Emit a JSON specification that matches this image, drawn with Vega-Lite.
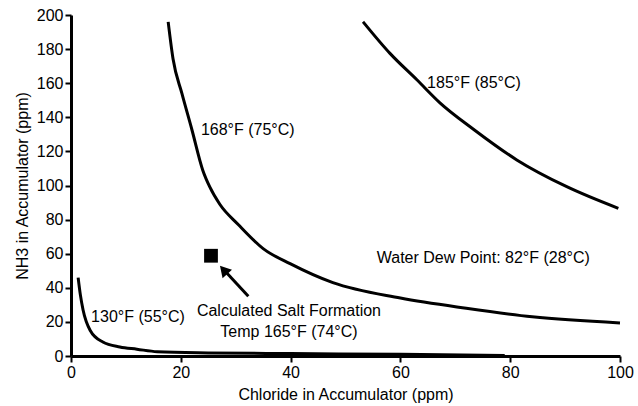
{
  "$schema": "https://vega.github.io/schema/vega-lite/v6.json",
  "autosize": {"type": "none"},
  "width": 549,
  "height": 341,
  "padding": {"left": 71, "top": 15, "right": 18, "bottom": 50},
  "background": "white",
  "config": {
    "view": {"stroke": null},
    "font": "Liberation Sans",
    "axis": {
      "grid": false,
      "domainColor": "black",
      "domainWidth": 3,
      "tickColor": "black",
      "tickWidth": 2,
      "tickSize": 6,
      "labelColor": "black",
      "labelFont": "Liberation Sans",
      "labelFontSize": 16,
      "labelPadding": 2,
      "labelOverlap": false,
      "labelFlush": false,
      "titleColor": "black",
      "titleFont": "Liberation Sans",
      "titleFontSize": 16,
      "titleFontWeight": "normal"
    }
  },
  "datasets": {
    "curves": [
      {"series": "130F", "Cl": 1.3, "NH3": 46},
      {"series": "130F", "Cl": 1.7, "NH3": 36},
      {"series": "130F", "Cl": 2.2, "NH3": 27},
      {"series": "130F", "Cl": 3.5, "NH3": 15},
      {"series": "130F", "Cl": 5.8, "NH3": 8.2},
      {"series": "130F", "Cl": 8.9, "NH3": 5.3},
      {"series": "130F", "Cl": 12, "NH3": 4},
      {"series": "130F", "Cl": 15.7, "NH3": 2.5},
      {"series": "130F", "Cl": 25, "NH3": 1.8},
      {"series": "130F", "Cl": 40, "NH3": 1.4},
      {"series": "130F", "Cl": 60, "NH3": 1},
      {"series": "130F", "Cl": 79, "NH3": 0.3},
      {"series": "168F", "Cl": 17.7, "NH3": 196},
      {"series": "168F", "Cl": 18.6, "NH3": 174},
      {"series": "168F", "Cl": 20.2, "NH3": 154},
      {"series": "168F", "Cl": 22, "NH3": 133},
      {"series": "168F", "Cl": 24, "NH3": 109},
      {"series": "168F", "Cl": 25.3, "NH3": 99},
      {"series": "168F", "Cl": 27.1, "NH3": 89},
      {"series": "168F", "Cl": 30.5, "NH3": 77},
      {"series": "168F", "Cl": 35, "NH3": 63},
      {"series": "168F", "Cl": 40, "NH3": 54},
      {"series": "168F", "Cl": 47.7, "NH3": 43},
      {"series": "168F", "Cl": 60, "NH3": 34},
      {"series": "168F", "Cl": 72, "NH3": 28},
      {"series": "168F", "Cl": 84, "NH3": 23},
      {"series": "168F", "Cl": 100, "NH3": 19.4},
      {"series": "185F", "Cl": 53.2, "NH3": 196},
      {"series": "185F", "Cl": 58.1, "NH3": 177.5},
      {"series": "185F", "Cl": 63, "NH3": 162},
      {"series": "185F", "Cl": 67.2, "NH3": 148.5},
      {"series": "185F", "Cl": 73.3, "NH3": 133},
      {"series": "185F", "Cl": 81.2, "NH3": 115},
      {"series": "185F", "Cl": 90.3, "NH3": 99.3},
      {"series": "185F", "Cl": 99.7, "NH3": 86.6}
    ],
    "labels": [
      {"Cl": 12.2, "NH3": 23, "text": "130°F (55°C)"},
      {"Cl": 32.2, "NH3": 132.5, "text": "168°F (75°C)"},
      {"Cl": 73.4, "NH3": 160, "text": "185°F (85°C)"},
      {"Cl": 75.1, "NH3": 57.5, "text": "Water Dew Point: 82°F (28°C)"},
      {"Cl": 39.7, "NH3": 26.4, "text": "Calculated Salt Formation"},
      {"Cl": 39.7, "NH3": 13.8, "text": "Temp 165°F (74°C)"}
    ]
  },
  "encoding": {
    "x": {"field": "Cl", "type": "quantitative", "scale": {"domain": [0, 100], "nice": false}, "axis": {"values": [0, 20, 40, 60, 80, 100], "labelOverlap": false, "title": "Chloride in Accumulator (ppm)", "titlePadding": 6}},
    "y": {"field": "NH3", "type": "quantitative", "scale": {"domain": [0, 200], "nice": false}, "axis": {"values": [0, 20, 40, 60, 80, 100, 120, 140, 160, 180, 200], "labelOverlap": false, "title": "NH3 in Accumulator (ppm)", "titlePadding": 6}}
  },
  "layer": [
    {
      "data": {"name": "curves"},
      "mark": {"type": "line", "color": "black", "strokeWidth": 3, "interpolate": "monotone"},
      "encoding": {
        "detail": {"field": "series"},
        "order": {"field": "Cl"}
      }
    },
    {
      "data": {"values": [{"Cl": 25.5, "NH3": 58.8}]},
      "mark": {"type": "point", "shape": "square", "filled": true, "color": "black", "size": 190, "opacity": 1}
    },
    {
      "data": {"values": [{"Cl": 32.3, "NH3": 35, "Cl2": 28, "NH32": 50}]},
      "mark": {"type": "rule", "color": "black", "strokeWidth": 3},
      "encoding": {
        "x2": {"field": "Cl2"},
        "y2": {"field": "NH32"}
      }
    },
    {
      "data": {"values": [{"Cl": 27.8, "NH3": 50.5}]},
      "mark": {"type": "point", "shape": "triangle-up", "filled": true, "color": "black", "size": 160, "angle": 318, "opacity": 1}
    },
    {
      "data": {"name": "labels"},
      "mark": {"type": "text", "color": "black", "font": "Liberation Sans", "fontSize": 16, "align": "center", "baseline": "middle"},
      "encoding": {
        "text": {"field": "text"}
      }
    }
  ]
}
